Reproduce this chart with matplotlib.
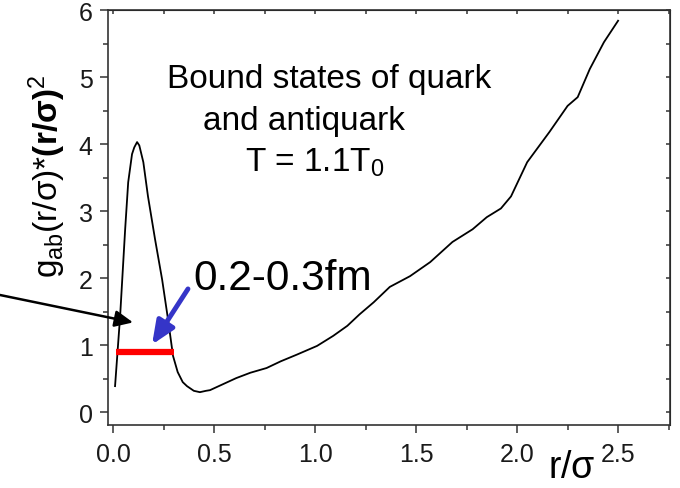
import matplotlib.pyplot as plt
from matplotlib.ticker import MultipleLocator

plt.rcParams['font.family'] = ['Liberation Sans', 'DejaVu Sans']
plt.rcParams['mathtext.fontset'] = 'custom'
plt.rcParams['mathtext.rm'] = 'Liberation Sans'
plt.rcParams['mathtext.it'] = 'Liberation Sans:italic'
plt.rcParams['mathtext.bf'] = 'Liberation Sans:bold'

# g_ab(r/sigma) * (r/sigma)^2
r = [0.01, 0.035, 0.06, 0.075, 0.094, 0.105, 0.119, 0.13, 0.15, 0.173, 0.208,
     0.243, 0.272, 0.297, 0.32, 0.345, 0.366, 0.40, 0.43, 0.46, 0.48, 0.545,
     0.61, 0.68, 0.76, 0.83, 0.91, 1.01, 1.09, 1.16, 1.22, 1.29, 1.37, 1.47,
     1.57, 1.68, 1.78, 1.85, 1.92, 1.97, 2.05, 2.16, 2.25, 2.30, 2.36, 2.43, 2.50]
g = [0.39, 1.43, 2.73, 3.43, 3.85, 3.95, 4.03, 3.98, 3.73, 3.22, 2.58,
     1.98, 1.39, 0.84, 0.60, 0.45, 0.39, 0.32, 0.30, 0.32, 0.33, 0.42,
     0.51, 0.59, 0.66, 0.76, 0.86, 0.99, 1.14, 1.29, 1.46, 1.64, 1.87, 2.03,
     2.24, 2.54, 2.73, 2.91, 3.04, 3.22, 3.73, 4.18, 4.57, 4.70, 5.12, 5.52, 5.84]

# red bar marking the bound-state range
bar_x = [0.015, 0.3]
bar_y = [0.9, 0.9]

xticks = [0.0, 0.5, 1.0, 1.5, 2.0, 2.5]
xticklabels = ['0.0', '0.5', '1.0', '1.5', '2.0', '2.5']
yticks = [0, 1, 2, 3, 4, 5, 6]

fig = plt.figure(figsize=(6.8, 4.89), dpi=100)
ax = fig.add_axes([0.1588, 0.1288, 0.8265, 0.8487])

ax.plot(r, g, color='black', lw=1.3)
ax.plot(bar_x, bar_y, color='red', lw=4.5, solid_capstyle='butt')

ax.set_xlim(-0.025, 2.757)
ax.set_ylim(-0.19, 6)
ax.set_xticks(xticks)
ax.set_xticklabels(xticklabels)
ax.set_yticks(yticks)
ax.xaxis.set_minor_locator(MultipleLocator(0.25))
ax.yaxis.set_minor_locator(MultipleLocator(0.5))
ax.tick_params(which='major', direction='out', length=6, width=1.1,
               labelsize=18, colors='#333333', labelcolor='#1a1a1a')
ax.tick_params(which='minor', direction='out', length=3.5, width=1.1, colors='#333333')
ax.tick_params(axis='x', pad=6)
ax.tick_params(axis='y', pad=5)
for s in ax.spines.values():
    s.set_linewidth(1.2)
    s.set_color('#333333')

# mirror ticks pointing inward on top and right
top = ax.secondary_xaxis('top')
top.xaxis.set_major_locator(MultipleLocator(0.25))
top.tick_params(direction='in', length=3, width=1.1, colors='#333333',
                labeltop=False, labelbottom=False)
right = ax.secondary_yaxis('right')
right.yaxis.set_major_locator(MultipleLocator(0.5))
right.tick_params(direction='in', length=3, width=1.1, colors='#333333',
                  labelright=False, labelleft=False)

fig.text(47 / 680, 1 - 176 / 489,
         r'$\mathrm{g_{ab}(r/\sigma)}\mathrm{*}\mathbf{(r/\sigma)}^{2}$',
         rotation=90, ha='center', va='center', fontsize=24)
fig.text(572 / 680, 1 - 478 / 489, r'r/$\mathrm{\sigma}$', ha='center',
         va='baseline', fontsize=27)

ax.text(0.267, 4.85, 'Bound states of quark', fontsize=24, va='baseline')
ax.text(0.446, 4.22, 'and antiquark', fontsize=24, va='baseline')
ax.text(0.653, 3.60, r'T = 1.1T$_\mathrm{0}$', fontsize=24, va='baseline')
ax.text(0.396, 1.84, '0.2-0.3fm', fontsize=30.5, va='baseline')

ax.annotate('', xy=(0.099, 1.34), xycoords='data',
            xytext=(0.0, 1 - 296 / 489), textcoords='figure fraction',
            arrowprops=dict(arrowstyle='-|>,head_length=1.1,head_width=0.5',
                            color='black', lw=1.8, shrinkA=0, shrinkB=0),
            annotation_clip=False)
ax.annotate('', xy=(0.193, 1.01), xytext=(0.371, 1.84),
            arrowprops=dict(arrowstyle='-|>,head_length=1.4,head_width=0.6',
                            color='#3535c8', lw=3.5, shrinkA=0, shrinkB=0))

fig.savefig('out.png', dpi=100)
